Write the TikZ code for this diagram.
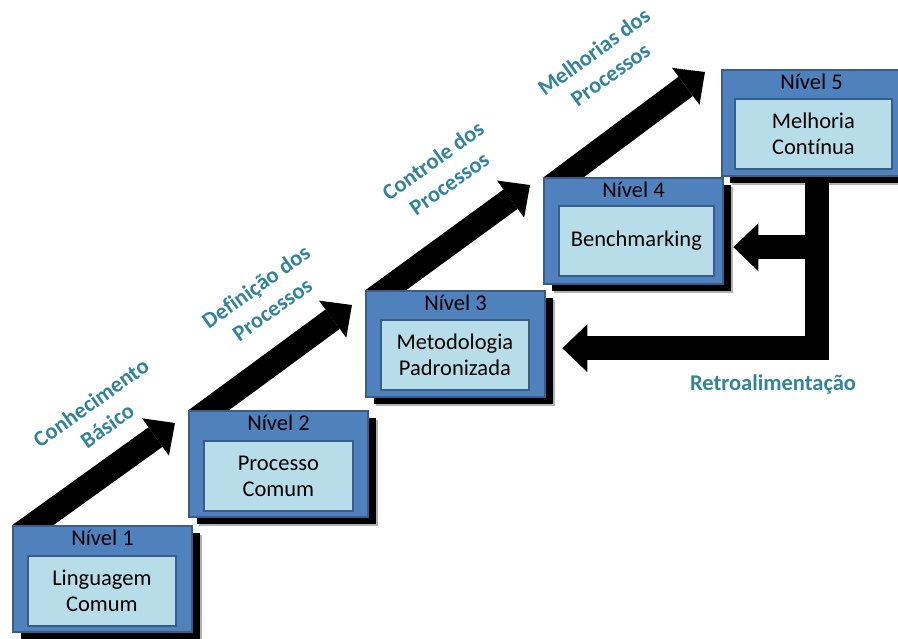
\documentclass[tikz,border=0pt]{standalone}
\usepackage{fontspec}
\setmainfont{Carlito}[Ligatures=NoCommon]
\usetikzlibrary{arrows.meta,calc,shadows}

\definecolor{lvlfill}{HTML}{4F81BD}
\definecolor{lvledge}{HTML}{385D8A}
\definecolor{stagefill}{HTML}{B7DEE8}
\definecolor{labelteal}{HTML}{31849B}

\tikzset{
  levelbox/.style={draw=lvledge, line width=2pt, fill=lvlfill,
    minimum width=179pt, minimum height=106pt, anchor=north west, inner sep=0pt,
    drop shadow={shadow xshift=10pt, shadow yshift=-9pt, opacity=0.3, fill=black},
    drop shadow={shadow xshift=8pt, shadow yshift=-7pt, opacity=1, fill=black}},
  leveltitle/.style={font=\fontsize{22.5}{26}\selectfont, text=black, inner sep=0pt},
  stagebox/.style={draw=lvledge, line width=1.8pt, fill=stagefill,
    minimum height=70pt, anchor=north west, align=center, inner sep=0pt,
    font=\fontsize{22.5}{26}\selectfont, text=black},
  stagearrow/.style={line width=24pt, line cap=butt,
    -{Triangle[width=46pt,length=24pt,line width=0pt]}},
  feedback/.style={line width=24pt, line cap=butt, line join=miter,
    -{Triangle[width=48pt,length=25pt,line width=0pt]}},
  stagelabel/.style={text=labelteal, align=center, inner sep=0pt,
    font=\bfseries\fontsize{22.5}{28}\selectfont},
}

\begin{document}
\begin{tikzpicture}[x=1pt,y=-1pt]
\useasboundingbox (0,0) rectangle (898,639);

% top-left corners of the five levels
\coordinate (c1) at (12,525);
\coordinate (c2) at (188,410);
\coordinate (c3) at (365,290);
\coordinate (c4) at (543,177);
\coordinate (c5) at (721,69);

% placeholders so the connectors can be drawn first, behind the boxes
\foreach \i in {1,...,5}
  \node[minimum width=179pt, minimum height=106pt, anchor=north west, inner sep=0pt] (b\i) at (c\i) {};

% rising arrows between consecutive levels
\foreach \a/\b/\dx/\dy in {1/2/-13/13, 2/3/-13/15, 3/4/-13/8, 4/5/-16/3} {
  \begin{scope}
    \clip (b\a.north west) rectangle (b\b.north east |- 0,0);
    \coordinate (p\a) at ($(b\a.north west)+(21,0)$);
    \coordinate (t\a) at ($(b\b.north west)+(\dx,\dy)$);
    \draw[stagearrow] ($(p\a)!-0.25!(t\a)$) -- (t\a);
  \end{scope}
}

% feedback from level 5 back to levels 4 and 3
\coordinate (fb0) at ($(b5.south west)+(96,0)$);
\coordinate (fb3) at ($(b3.east)+(18,5)$);
\coordinate (fb4) at ($(b4.east)+(11,17)$);
\draw[feedback] (fb0) |- (fb3);
\draw[feedback] (fb0 |- fb4) -- (fb4);

% level boxes
\foreach \i in {1,...,5} {
  \node[levelbox] (L\i) at (c\i) {};
  \node[leveltitle] (T\i) at ($(L\i.north)+(0,13)$) {Nível \i};
}

\node[stagebox, minimum width=148pt] (s1) at ($(c1)+(15,30)$) {Linguagem\\Comum};
\node[stagebox, minimum width=149pt] (s2) at ($(c2)+(15,30)$) {Processo\\Comum};
\node[stagebox, minimum width=148pt] (s3) at ($(c3)+(15,29)$) {Metodologia\\Padronizada};
\node[stagebox, minimum width=155pt] (s4) at ($(c4)+(15,28)$) {Benchmarking};
\node[stagebox, minimum width=157pt] (s5) at ($(c5)+(13,29)$) {Melhoria\\Contínua};

% stage labels along the rising arrows
\node[stagelabel, rotate=35.5] (l1) at (99,414) {Conhecimento\\Básico};
\node[stagelabel, rotate=35.5] (l2) at (264,298) {Definição dos\\Processos};
\node[stagelabel, rotate=35.5] (l3) at (441,172) {Controle dos\\Processos};
\node[stagelabel, rotate=36] (l4) at (602,63) {Melhorias dos\\Processos};
\node[stagelabel] (l5) at (773,384) {Retroalimentação};

\end{tikzpicture}
\end{document}
